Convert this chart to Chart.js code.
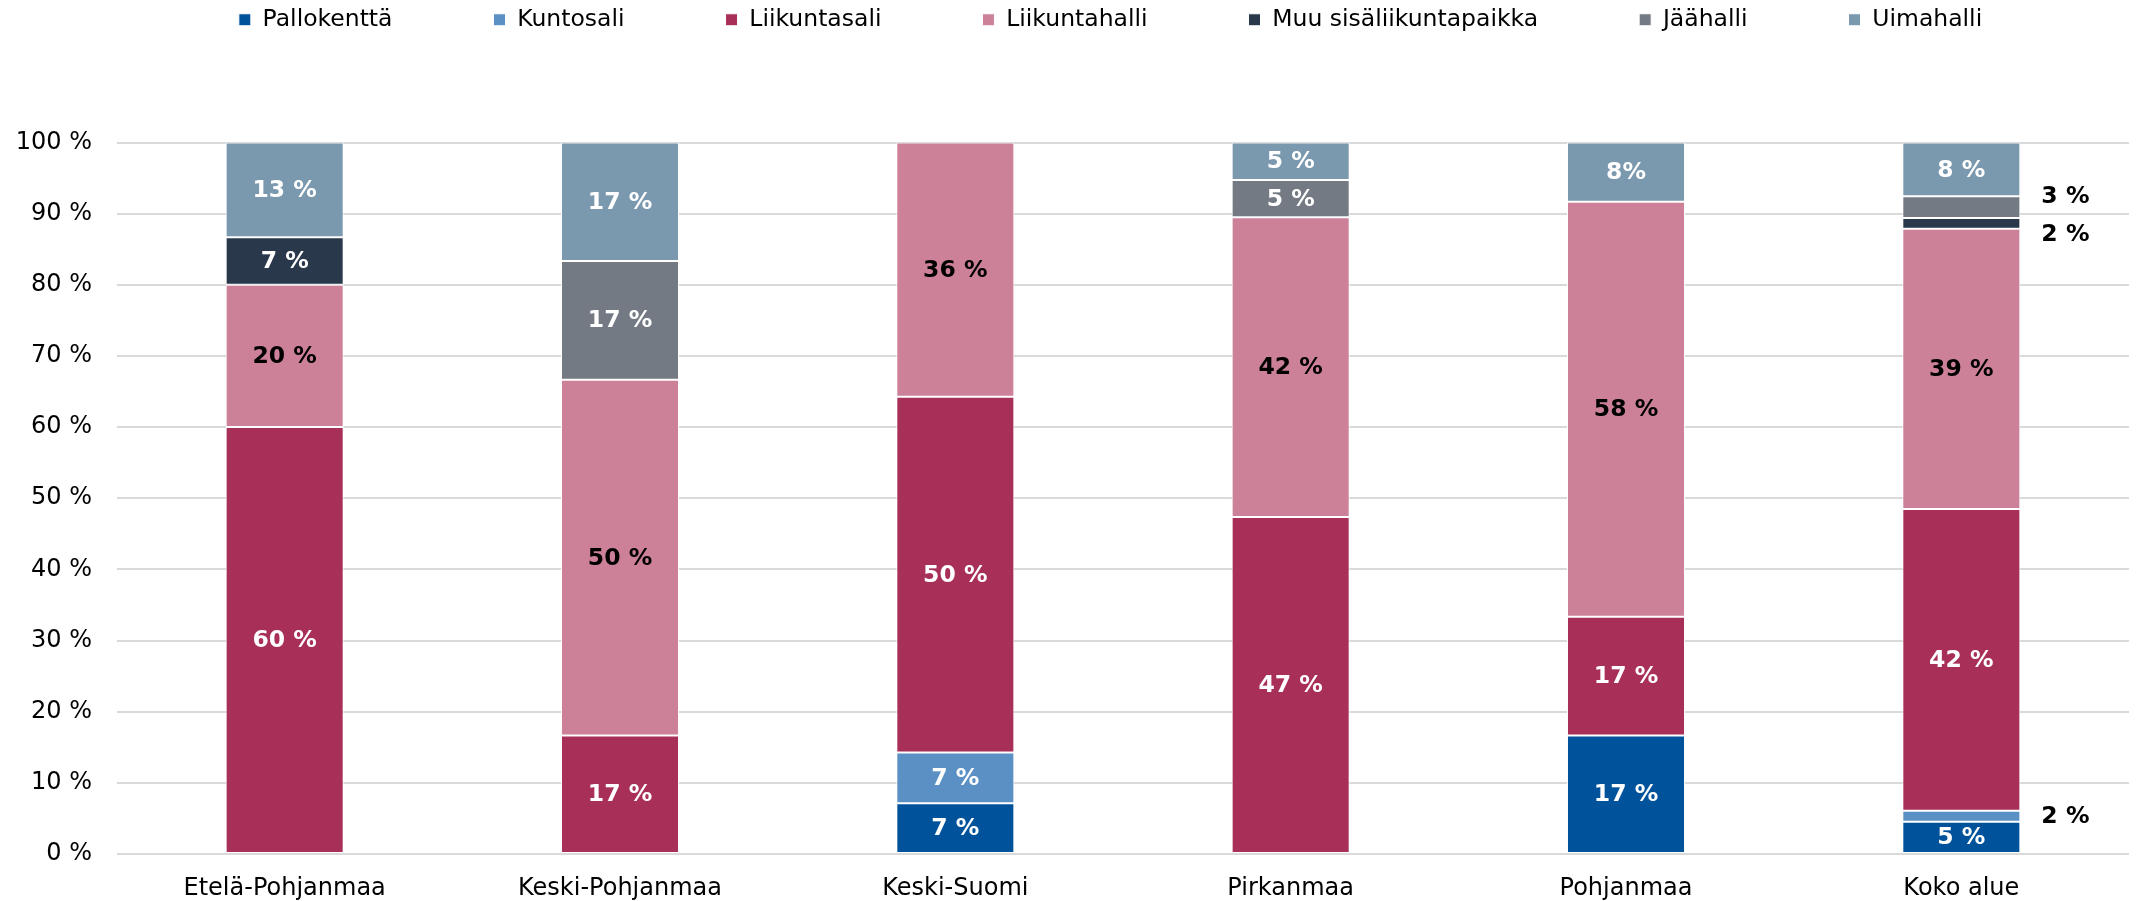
<!DOCTYPE html>
<html>
<head>
<meta charset="utf-8">
<script src="https://cdn.jsdelivr.net/npm/chart.js@4"></script>
<style>
  body { margin: 0; background: #fff; }
  #wrap { width: 2136px; height: 901px; }
</style>
</head>
<body>
<div id="wrap"><canvas id="hallChart"></canvas></div>
<script>
// categories (regions)
const regions = ['Etelä-Pohjanmaa', 'Keski-Pohjanmaa', 'Keski-Suomi', 'Pirkanmaa', 'Pohjanmaa', 'Koko alue'];

// share of each facility type, % per region
const pallokentta   = [0, 0, 7.14, 0, 16.67, 4.55];
const kuntosali     = [0, 0, 7.14, 0, 0, 1.52];
const liikuntasali  = [60, 16.67, 50, 47.37, 16.67, 42.42];
const liikuntahalli = [20, 50, 35.71, 42.11, 58.33, 39.39];
const muuSisa       = [6.67, 0, 0, 0, 0, 1.52];
const jaahalli      = [0, 16.67, 0, 5.26, 0, 3.03];
const uimahalli     = [13.33, 16.67, 0, 5.26, 8.33, 7.58];

const yTicks = [0, 10, 20, 30, 40, 50, 60, 70, 80, 90, 100];

// label text that differs from the default "N %"
const labelOverrides = { 'Pohjanmaa|Uimahalli': '8%' };

const series = [
  { label: 'Pallokenttä', data: pallokentta, color: '#00539b', text: '#fff' },
  { label: 'Kuntosali', data: kuntosali, color: '#5b90c4', text: '#fff' },
  { label: 'Liikuntasali', data: liikuntasali, color: '#a83058', text: '#fff' },
  { label: 'Liikuntahalli', data: liikuntahalli, color: '#cc8199', text: '#000' },
  { label: 'Muu sisäliikuntapaikka', data: muuSisa, color: '#29384a', text: '#fff' },
  { label: 'Jäähalli', data: jaahalli, color: '#737a83', text: '#fff' },
  { label: 'Uimahalli', data: uimahalli, color: '#7a98ae', text: '#fff' }
];

const LEGEND_PAD = 101;

// moves the legend row up to the top edge (big label padding is only for horizontal spacing)
const legendPlace = {
  id: 'legendPlace',
  afterLayout(chart) {
    const lg = chart.legend;
    const dy = lg.top - (8 - LEGEND_PAD);
    lg.top -= dy;
    lg.bottom -= dy;
    lg.left += 46;
    lg.right += 46;
  }
};

// value labels on the segments, small ones go to the right of the bar
const segmentLabels = {
  id: 'segmentLabels',
  afterDatasetsDraw(chart) {
    const ctx = chart.ctx;
    ctx.save();
    ctx.font = 'bold 23.5px "DejaVu Sans"';
    ctx.textBaseline = 'middle';
    const outside = {};
    chart.data.datasets.forEach((ds, i) => {
      const meta = chart.getDatasetMeta(i);
      meta.data.forEach((bar, j) => {
        const v = ds.data[j];
        if (!v) return;
        const key = regions[j] + '|' + ds.label;
        const txt = labelOverrides[key] || Math.round(v) + ' %';
        const h = Math.abs(bar.base - bar.y);
        const cy = (bar.y + bar.base) / 2;
        if (h >= 28) {
          ctx.fillStyle = ds.labelColor;
          ctx.textAlign = 'center';
          ctx.fillText(txt, bar.x, cy + 1);
        } else {
          (outside[j] = outside[j] || []).push({ txt, y: cy, x: bar.x + bar.width / 2 + 21 });
        }
      });
    });
    ctx.fillStyle = '#000';
    ctx.textAlign = 'left';
    Object.values(outside).forEach(list => {
      list.sort((a, b) => a.y - b.y);
      // push apart labels that would overlap
      for (let k = 1; k < list.length; k++) {
        const gap = list[k].y - list[k - 1].y;
        if (gap < 38) {
          const mid = (list[k].y + list[k - 1].y) / 2;
          list[k - 1].y = mid - 19;
          list[k].y = mid + 19;
        }
      }
      list.forEach(l => ctx.fillText(l.txt, l.x, l.y + 1));
    });
    ctx.restore();
  }
};

Chart.defaults.font.family = '"DejaVu Sans", Verdana, sans-serif';
Chart.defaults.color = '#000';

new Chart(document.getElementById('hallChart'), {
  type: 'bar',
  data: {
    labels: regions,
    datasets: series.map(s => ({
      label: s.label,
      data: s.data,
      backgroundColor: s.color,
      borderColor: '#fff',
      borderWidth: 1,
      borderSkipped: false,
      labelColor: s.text,
      categoryPercentage: 1,
      barPercentage: 0.352
    }))
  },
  options: {
    responsive: true,
    maintainAspectRatio: false,
    animation: false,
    devicePixelRatio: 1,
    layout: { padding: { top: 8, left: 0, right: 7, bottom: 0 } },
    scales: {
      x: {
        stacked: true,
        grid: { display: false, drawTicks: false },
        border: { display: false },
        ticks: { font: { size: 24 }, padding: 20, maxRotation: 0 },
        afterFit(axis) { axis.height = 47; }
      },
      y: {
        stacked: true,
        min: 0,
        max: 100,
        afterBuildTicks(axis) { axis.ticks = yTicks.map(v => ({ value: v })); },
        grid: { color: '#d9d9d9', lineWidth: 2, drawTicks: false },
        border: { display: false },
        ticks: { font: { size: 24 }, padding: 25, callback: v => v + ' %' },
        afterFit(axis) { axis.width = 117; }
      }
    },
    plugins: {
      legend: {
        position: 'top',
        labels: {
          boxWidth: 12,
          boxHeight: 12,
          padding: LEGEND_PAD,
          font: { size: 23.5 },
          color: '#000'
        }
      },
      tooltip: { enabled: false }
    }
  },
  plugins: [legendPlace, segmentLabels]
});
</script>
</body>
</html>
